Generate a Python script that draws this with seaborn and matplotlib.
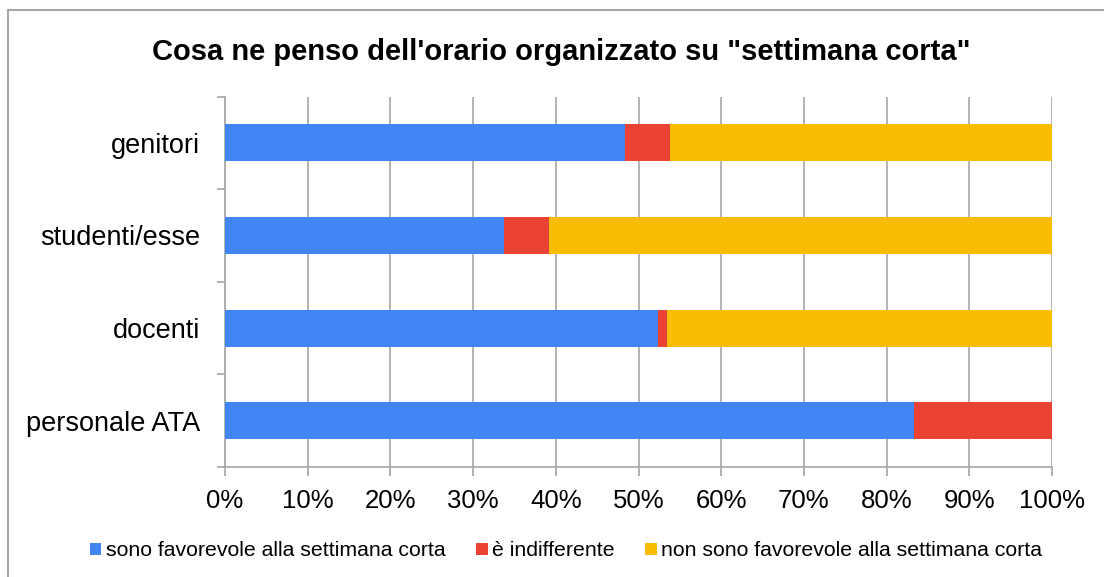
import matplotlib
matplotlib.use("Agg")
import matplotlib.pyplot as plt
import seaborn as sns
import pandas as pd
import numpy as np
from matplotlib.patches import Patch
from matplotlib.lines import Line2D
from matplotlib.ticker import FuncFormatter, FixedLocator

categories = ["genitori", "studenti/esse", "docenti", "personale ATA"]
favorevole = [48.4, 33.7, 52.3, 83.3]
indifferente = [5.4, 5.5, 1.1, 16.7]
non_favorevole = [46.2, 60.8, 46.6, 0.0]
series_names = ["sono favorevole alla settimana corta", "è indifferente",
                "non sono favorevole alla settimana corta"]
colors = ["#4285F4", "#EA4335", "#FBBC04"]
title = "Cosa ne penso dell'orario organizzato su \"settimana corta\""

sns.set_theme(style="white")
plt.rcParams['font.family'] = ['Liberation Sans', 'DejaVu Sans']
plt.rcParams['text.color'] = 'black'

df = pd.DataFrame({"cat": categories, "fav": favorevole,
                   "ind": indifferente, "non": non_favorevole})
df["c1"] = df["fav"]
df["c2"] = df["fav"] + df["ind"]
df["c3"] = df["fav"] + df["ind"] + df["non"]

W, H = 1104, 577
fig = plt.figure(figsize=(W / 100, H / 100), dpi=100)
ax = fig.add_axes([225 / W, 1 - 467 / H, (1052 - 225) / W, (467 - 96.5) / H])

for col, c in zip(["c3", "c2", "c1"], [colors[2], colors[1], colors[0]]):
    sns.barplot(data=df, x=col, y="cat", orient="h", color=c, width=0.4,
                saturation=1, ax=ax, zorder=3, linewidth=0)

ax.set_xlim(0, 100)
ax.set_ylim(3.5, -0.5)
ax.xaxis.set_major_locator(FixedLocator(np.arange(0, 101, 10)))
ax.xaxis.set_major_formatter(FuncFormatter(lambda v, p: f"{int(round(v))}%"))
ax.grid(axis="x", color="#A6A6A6", linewidth=1.2, zorder=0)
ax.set_axisbelow(True)
for s in ["top", "right"]:
    ax.spines[s].set_visible(False)
for s in ["left", "bottom"]:
    ax.spines[s].set_color("#A6A6A6")
    ax.spines[s].set_linewidth(1.2)
ax.set_xlabel("")
ax.set_ylabel("")
ax.set_yticks([0, 1, 2, 3])
ax.set_yticklabels(categories)
ax.set_yticks([-0.5, 0.5, 1.5, 2.5, 3.5], minor=True)
ax.tick_params(axis="y", which="major", length=0, pad=18, labelsize=19.5, colors="black")
ax.tick_params(axis="y", which="minor", length=6, width=1.2, color="#A6A6A6", left=True)
ax.tick_params(axis="x", which="major", length=6.3, width=1.2, color="#A6A6A6",
               bottom=True, labelsize=18.5, pad=9.5, labelcolor="black")

fig.text(561 / W, 1 - 60 / H, title, ha="center", va="baseline", fontsize=21,
         fontweight="bold", color="black")

handles = [Patch(facecolor=c, edgecolor="none") for c in colors]
fig.legend(handles, series_names, loc="center", bbox_to_anchor=(566 / W, 1 - 551 / H),
           ncol=3, frameon=False, fontsize=15.3, handlelength=0.55, handleheight=0.55,
           handletextpad=0.2, columnspacing=1.45, borderpad=0, borderaxespad=0,
           labelcolor="black")

fig.add_artist(Line2D([7.5 / W, 7.5 / W], [0, 1 - 10 / H], transform=fig.transFigure,
                      color="#A6A6A6", linewidth=1.5))
fig.add_artist(Line2D([7.5 / W, 1], [1 - 10 / H, 1 - 10 / H], transform=fig.transFigure,
                      color="#A6A6A6", linewidth=1.5))

fig.savefig("out.png", dpi=100)
